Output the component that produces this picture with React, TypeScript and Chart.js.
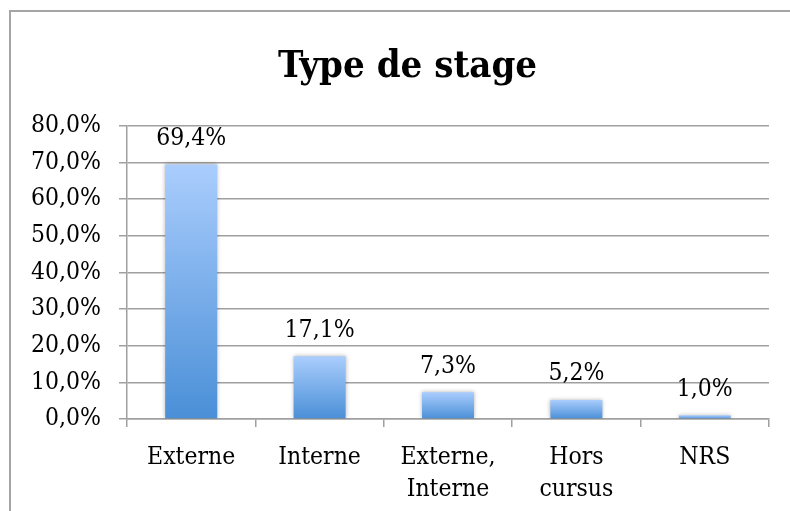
import { useEffect, useRef } from 'react';
import { Chart, registerables } from 'chart.js';

Chart.register(...registerables);

const title = 'Type de stage';
const categories: string[][] = [['Externe'], ['Interne'], ['Externe,', 'Interne'], ['Hors', 'cursus'], ['NRS']];
const values: number[] = [69.4, 17.1, 7.3, 5.2, 1.0];
const yMin = 0;
const yMax = 80;
const yStep = 10;

const FAMILY = '"DejaVu Serif Condensed", "DejaVu Serif", serif';
const GRID = '#a0a0a0';
const TXT = 24.5;

const fmt = (v: number) => v.toFixed(1).replace('.', ',') + '%';

export default function App() {
  const ref = useRef<HTMLCanvasElement | null>(null);

  useEffect(() => {
    if (!ref.current) return;
    const labelPlugin = {
      id: 'barLabels',
      afterLayout(chart: any) {
        const t = chart.titleBlock;
        if (t) t.left += 46;
      },
      beforeDatasetsDraw(chart: any) {
        const ctx = chart.ctx;
        ctx.save();
        ctx.shadowColor = 'rgba(0,0,0,0.3)';
        ctx.shadowBlur = 4;
        ctx.shadowOffsetX = 0;
        ctx.shadowOffsetY = 0;
      },
      afterDatasetsDraw(chart: any) {
        const ctx = chart.ctx;
        ctx.restore();
        const meta = chart.getDatasetMeta(0);
        ctx.save();
        ctx.font = `${TXT}px ${FAMILY}`;
        ctx.fillStyle = '#000';
        ctx.textAlign = 'center';
        ctx.textBaseline = 'middle';
        meta.data.forEach((bar: any, i: number) => {
          ctx.fillText(fmt(values[i]), bar.x, bar.y - 26);
        });
        ctx.restore();
      },
    };

    const chart = new Chart(ref.current, {
      type: 'bar',
      data: {
        labels: categories,
        datasets: [
          {
            data: values,
            backgroundColor: (c: any) => {
              const chart = c.chart;
              const ys = chart.scales?.y;
              if (!ys || c.type !== 'data') return '#7fb0ea';
              const top = ys.getPixelForValue(c.raw);
              const bottom = ys.getPixelForValue(0);
              if (!isFinite(top) || !isFinite(bottom) || bottom - top < 0.5) return '#a9cdfc';
              const g = chart.ctx.createLinearGradient(0, top, 0, bottom);
              g.addColorStop(0, '#aacdfd');
              g.addColorStop(1, '#4a8fd7');
              return g;
            },
            borderWidth: 0,
            categoryPercentage: 1,
            barPercentage: 0.405,
          },
        ],
      },
      options: {
        responsive: false,
        animation: false,
        devicePixelRatio: 1,
        layout: { padding: { left: 0, right: 21, top: 0, bottom: 0 } },
        plugins: {
          legend: { display: false },
          tooltip: { enabled: false },
          title: {
            display: true,
            text: title,
            color: '#000',
            font: { family: FAMILY, size: 38, weight: 'bold', lineHeight: 1.2 },
            padding: { top: 44, bottom: 36 },
          },
        },
        scales: {
          x: {
            grid: { offset: true, drawOnChartArea: false, tickLength: 8, color: GRID, lineWidth: 1.5 },
            border: { color: GRID, width: 1.5 },
            ticks: { color: '#000', font: { family: FAMILY, size: TXT, lineHeight: 1.3 }, padding: 15, maxRotation: 0, autoSkip: false },
            afterFit: (s: any) => { s.height = 92; },
          },
          y: {
            min: yMin,
            max: yMax,
            grid: { color: GRID, lineWidth: 1.5, tickLength: 8 },
            border: { color: GRID, width: 1.5 },
            ticks: {
              stepSize: yStep,
              color: '#000',
              font: { family: FAMILY, size: TXT },
              padding: 18,
              callback: (v: any) => fmt(Number(v)),
            },
            afterFit: (s: any) => { s.width = 127; },
          },
        },
      },
      plugins: [labelPlugin],
    });
    return () => chart.destroy();
  }, []);

  return (
    <div style={{ position: 'fixed', left: 0, top: 0, width: 790, height: 511, overflow: 'hidden', background: '#fff' }}>
      <div style={{ position: 'absolute', left: 9, top: 10, width: 1000, height: 1000, borderLeft: '2px solid #a5a5a5', borderTop: '2px solid #a5a5a5' }} />
      <canvas ref={ref} width={790} height={511} style={{ position: 'absolute', left: 0, top: 0, width: 790, height: 511 }} />
    </div>
  );
}
